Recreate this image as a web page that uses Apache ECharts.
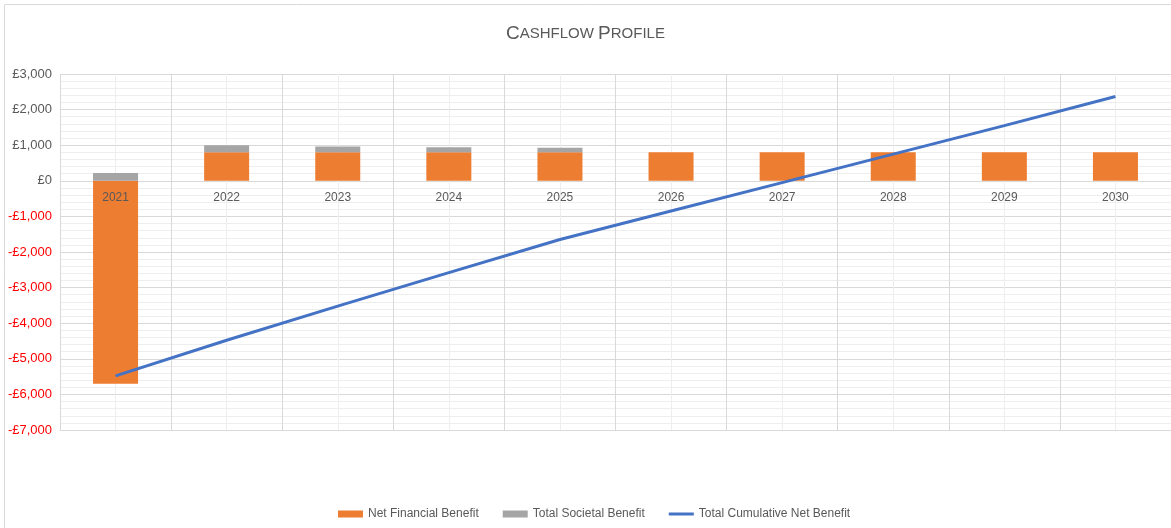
<!DOCTYPE html>
<html>
<head>
<meta charset="utf-8">
<script src="https://cdn.jsdelivr.net/npm/echarts@6/dist/echarts.min.js"></script>
<style>
html,body{margin:0;padding:0;background:#fff;}
#chart{width:1171px;height:528px;}
</style>
</head>
<body>
<div id="chart"></div>
<script>
const years = ['2021','2022','2023','2024','2025','2026','2027','2028','2029','2030'];
const netFinancial = [-5700, 800, 800, 800, 800, 800, 800, 800, 800, 800];
const totalSocietal = [220, 200, 160, 140, 130, 0, 0, 0, 0, 0];
const cumulativeNet = [-5480, -4480, -3520, -2580, -1650, -850, -50, 750, 1550, 2370];

const chart = echarts.init(document.getElementById('chart'));
const FONT = '"Liberation Sans", Arial, sans-serif';
chart.setOption({
  animation: false,
  textStyle: { fontFamily: FONT },
  graphic: [{
    type: 'rect', shape: { x: 4.5, y: 4.5, width: 1200, height: 600 },
    style: { fill: 'none', stroke: '#d9d9d9', lineWidth: 1 }, z: -10, silent: true
  }],
  title: {
    text: '{a|C}{b|ASHFLOW }{a|P}{b|ROFILE}',
    left: 'center', top: 19,
    textStyle: {
      fontWeight: 'normal',
      rich: {
        a: { fontSize: 19, color: '#595959', fontFamily: FONT, fontWeight: 'normal' },
        b: { fontSize: 15, color: '#595959', fontFamily: FONT, fontWeight: 'normal' }
      }
    }
  },
  legend: {
    left: 333, top: 503,
    itemWidth: 25, itemHeight: 7, itemGap: 24,
    textStyle: { fontSize: 12, color: '#595959', fontFamily: FONT },
    data: [
      { name: 'Net Financial Benefit', icon: 'rect' },
      { name: 'Total Societal Benefit', icon: 'rect' },
      { name: 'Total Cumulative Net Benefit', icon: 'path://M0,0 L25,0 L25,3 L0,3 Z', itemStyle: { color: '#4472C4' } }
    ]
  },
  grid: { left: 60, right: 0, top: 74, bottom: 98, containLabel: false },
  xAxis: [{
    type: 'category', data: years, position: 'bottom', z: 10,
    axisLine: { show: true, onZero: false, lineStyle: { color: '#d9d9d9' } },
    axisTick: { show: false },
    axisLabel: { margin: -238, fontSize: 12, color: '#595959', fontFamily: FONT },
    splitLine: { show: false }
  }, {
    type: 'value', min: 0, max: 20, interval: 1, position: 'top',
    axisLine: { show: false, onZero: false }, axisTick: { show: false }, axisLabel: { show: false },
    splitLine: { show: true, lineStyle: { color: ['#d9d9d9', '#eeeeee'], width: 1 } }
  }],
  yAxis: {
    type: 'value', min: -7000, max: 3000, interval: 1000,
    axisLine: { show: false, onZero: false }, axisTick: { show: false },
    axisLabel: {
      margin: 8, fontSize: 13, fontFamily: FONT,
      formatter: function (v) {
        const s = '£' + Math.abs(v).toLocaleString('en-GB');
        return v < 0 ? '{n|-' + s + '}' : '{p|' + s + '}';
      },
      rich: {
        n: { color: '#ff0000', fontSize: 13, fontFamily: FONT },
        p: { color: '#595959', fontSize: 13, fontFamily: FONT }
      }
    },
    splitLine: { show: true, lineStyle: { color: '#d9d9d9', width: 1 } },
    minorTick: { show: false, splitNumber: 5 },
    minorSplitLine: { show: true, lineStyle: { color: '#eeeeee', width: 1 } }
  },
  series: [{
    name: 'Net Financial Benefit', type: 'bar', stack: 'cf',
    data: netFinancial, barWidth: 45,
    itemStyle: { color: '#ED7D31' }, z: 3
  }, {
    name: 'Total Societal Benefit', type: 'bar', stack: 'cf',
    data: totalSocietal, barWidth: 45,
    itemStyle: { color: '#A5A5A5' }, z: 3
  }, {
    name: 'Total Cumulative Net Benefit', type: 'line',
    data: cumulativeNet, symbol: 'none', showSymbol: false,
    lineStyle: { color: '#4472C4', width: 3 },
    itemStyle: { color: '#4472C4' }, z: 5
  }]
});
</script>
</body>
</html>
